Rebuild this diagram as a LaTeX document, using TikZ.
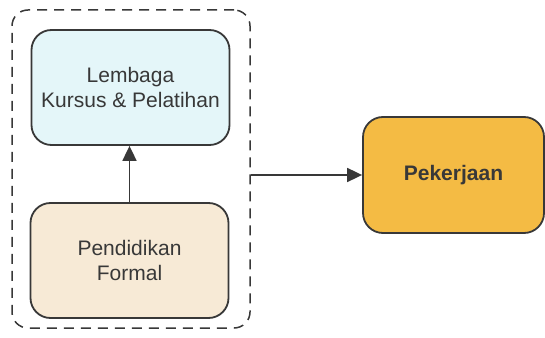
\documentclass[tikz,border=0pt]{standalone}
\usepackage{fontspec}
\setmainfont{Liberation Sans}
\usetikzlibrary{arrows.meta}
\definecolor{edge}{HTML}{383838}
\definecolor{txt}{HTML}{383838}
\definecolor{cyanfill}{HTML}{E4F6F9}
\definecolor{beigefill}{HTML}{F7EAD6}
\definecolor{goldfill}{HTML}{F4BB44}
\tikzset{
  box/.style={draw=edge, line width=1.8pt, rounded corners=20pt, align=center,
    text=txt, font=\fontsize{21}{25}\selectfont, inner sep=0pt},
  grp/.style={draw=edge, line width=1.5pt, dash pattern=on 10pt off 7pt, rounded corners=16pt, inner sep=0pt},
  conn/.style={draw=edge, line width=1.8pt, -{Triangle[length=15pt,width=14pt]}}
}
\begin{document}
\begin{tikzpicture}[x=1pt,y=1pt]
\useasboundingbox (0,0) rectangle (545,337);
\node[grp, minimum width=238pt, minimum height=318pt] (group) at (131,168) {};
\node[box, fill=cyanfill, minimum width=198pt, minimum height=115pt] (lemb) at (130.5,249.5) {Lembaga\\Kursus \& Pelatihan};
\node[box, fill=beigefill, minimum width=198pt, minimum height=115pt] (pend) at (129.5,76.5) {Pendidikan\\Formal};
\node[box, fill=goldfill, minimum width=181pt, minimum height=116pt, font=\fontsize{21}{25}\selectfont\bfseries] (pek) at (453.5,162) {Pekerjaan};
\draw[conn] (pend.north) -- (pend.north |- lemb.south);
\draw[conn] (group.east |- pek.west) -- (pek.west);
\end{tikzpicture}
\end{document}
